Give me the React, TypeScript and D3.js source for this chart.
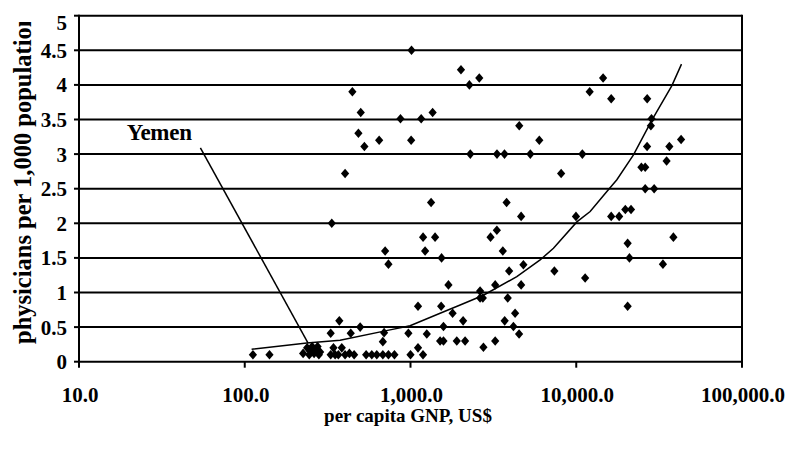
import React from "react";
import * as d3 from "d3";

// ---- data ----
const gnp: number[] = [
  112, 141, 225, 238, 245, 248, 255, 262, 270, 275, 280, 285, 330, 330, 335, 343, 351, 367, 372, 385,
  403, 403, 428, 436, 446, 457, 485, 497, 501, 527, 540, 584, 626, 647, 681, 681, 693, 703, 736, 736,
  800, 870, 971, 1000, 1009, 1014, 1110, 1110, 1160, 1190, 1191, 1225, 1254, 1331, 1360, 1407, 1509,
  1531, 1540, 1581, 1581, 1694, 1795, 1902, 2016, 2077, 2135, 2266, 2295, 2600, 2630, 2630, 2731, 2754,
  3040, 3243, 3243, 3319, 3325, 3606, 3690, 3700, 3800, 3860, 3936, 4178, 4276, 4520, 4530, 4650, 4650,
  4799, 5284, 5985, 7380, 8106, 9960, 10885, 11314, 12050, 14520, 16250, 16250, 18150, 19770, 20420,
  20420, 20941, 21400, 24720, 26066, 26066, 26750, 26790, 28200, 28450, 29512, 33340, 35080, 36450,
  38550, 42900,
];
const physicians: number[] = [
  0.1, 0.1, 0.12, 0.2, 0.1, 0.16, 0.22, 0.12, 0.18, 0.22, 0.1, 0.14, 0.1, 0.41, 2.0, 0.2, 0.1, 0.1, 0.59, 0.2,
  0.1, 2.72, 0.12, 0.41, 3.9, 0.1, 3.3, 0.5, 3.6, 3.11, 0.1, 0.1, 0.1, 3.2, 0.1, 0.29, 0.42, 1.6, 0.1, 1.41,
  0.1, 3.51, 0.41, 0.1, 3.2, 4.5, 0.2, 0.8, 3.51, 0.1, 1.8, 1.6, 0.4, 2.3, 3.6, 1.8, 0.3,
  0.8, 1.5, 0.3, 0.51, 1.11, 0.7, 0.3, 4.22, 0.59, 0.3, 4.0, 3.0, 4.1, 1.02, 0.92, 0.92, 0.21,
  1.8, 0.3, 1.11, 1.9, 3.0, 1.6, 3.0, 0.59, 2.3, 0.92, 1.31, 0.51, 0.7, 0.4, 3.41, 1.11, 2.1,
  1.4, 3.0, 3.2, 1.31, 2.72, 2.1, 3.0, 1.21, 3.9, 4.1, 3.8, 2.1, 2.1, 2.2, 1.71,
  0.8, 1.5, 2.2, 2.81, 2.81, 2.5, 3.11, 3.8, 3.41, 3.51, 2.5, 1.41, 2.9, 3.11,
  1.8, 3.21,
];
const trendGnp: number[] = [110, 237, 376, 753, 994, 1509, 1993, 2754, 4380, 6053, 7286, 10083, 12130, 15300, 17580, 22140, 28600, 37760, 43150];
const trendPhys: number[] = [0.18, 0.27, 0.31, 0.46, 0.52, 0.7, 0.82, 0.96, 1.23, 1.47, 1.64, 2.02, 2.17, 2.46, 2.63, 2.99, 3.49, 3.99, 4.3];

const xTicks: number[] = [10, 100, 1000, 10000, 100000];
const yTicks: number[] = [0, 0.5, 1, 1.5, 2, 2.5, 3, 3.5, 4, 4.5, 5];

const yemenLabel = "Yemen";
const yemenPoint: [number, number] = [241, 0.27];
const yemenLineStart: [number, number] = [54, 3.09];
const yemenTextAt: [number, number] = [19.4, 3.2];

const xTitle = "per capita GNP, US$";
const yTitle = "physicians per 1,000 population";

const FONT = "'Times New Roman', 'Liberation Serif', serif";

const diamond = {
  draw(ctx: any, size: number) {
    const w = Math.sqrt(size) * 0.62;
    const h = Math.sqrt(size) * 0.72;
    ctx.moveTo(0, -h);
    ctx.lineTo(w, 0);
    ctx.lineTo(0, h);
    ctx.lineTo(-w, 0);
    ctx.closePath();
  },
};

export default function App() {
  const W = 785;
  const H = 454;
  const left = 79,
    right = 742,
    top = 15.7,
    bottom = 361.7;

  const x = d3.scaleLog().domain([10, 100000]).range([left, right]);
  const y = d3.scaleLinear().domain([0, 5]).range([bottom, top]);

  const fmtX = (v: number) => d3.format(",.1f")(v);
  const symbolPath = d3.symbol().type(diamond as any).size(44)() as string;

  const trendLine = d3
    .line<number>()
    .x((_, i) => x(trendGnp[i]))
    .y((_, i) => y(trendPhys[i]))(trendGnp.map((_, i) => i)) as string;

  return (
    <svg
      width={W}
      height={H}
      style={{ position: "absolute", left: 0, top: 0, background: "#fff" }}
      fontFamily={FONT}
    >
      <defs>
        <clipPath id="ytitle-clip">
          <rect x={0} y={22} width={60} height={400} />
        </clipPath>
      </defs>
      <rect x={0} y={0} width={W} height={H} fill="#fff" />

      {/* gridlines */}
      {yTicks.map((t) => (
        <line key={"g" + t} x1={left} x2={right} y1={y(t)} y2={y(t)} stroke="#000" strokeWidth={2} />
      ))}
      {/* frame */}
      <line x1={right} x2={right} y1={top - 1} y2={bottom + 1} stroke="#000" strokeWidth={2} />
      <line x1={left} x2={left} y1={top - 1} y2={bottom + 1} stroke="#000" strokeWidth={2} />

      {/* y ticks & labels */}
      {yTicks.map((t) => (
        <g key={"yt" + t}>
          <line x1={left - 5} x2={left} y1={y(t)} y2={y(t)} stroke="#000" strokeWidth={2} />
          <text
            x={67}
            y={Math.max(y(t), 22.5)}
            dy="0.36em"
            textAnchor="end"
            fontSize={21}
            fontWeight="bold"
          >
            {String(t)}
          </text>
        </g>
      ))}

      {/* x ticks & labels */}
      {xTicks.map((t) => (
        <g key={"xt" + t}>
          <line x1={x(t)} x2={x(t)} y1={bottom} y2={bottom + 6} stroke="#000" strokeWidth={2} />
          <text x={x(t) + 1} y={402} textAnchor="middle" fontSize={21} fontWeight="bold">
            {fmtX(t)}
          </text>
        </g>
      ))}

      {/* trend line */}
      <path d={trendLine} fill="none" stroke="#000" strokeWidth={1.5} />

      {/* Yemen annotation */}
      <line
        x1={x(yemenLineStart[0])}
        y1={y(yemenLineStart[1])}
        x2={x(yemenPoint[0])}
        y2={y(yemenPoint[1])}
        stroke="#000"
        strokeWidth={1.5}
      />
      <text x={x(yemenTextAt[0])} y={y(yemenTextAt[1])} fontSize={23} fontWeight="bold" letterSpacing={-0.3}>
        {yemenLabel}
      </text>

      {/* points */}
      {gnp.map((g, i) => (
        <path key={"p" + i} d={symbolPath} transform={`translate(${x(g)},${y(physicians[i])})`} fill="#000" />
      ))}

      {/* axis titles */}
      <text x={408} y={422} textAnchor="middle" fontSize={19} fontWeight="bold">
        {xTitle}
      </text>
      <g clipPath="url(#ytitle-clip)">
        <text
          transform={`translate(31,344) rotate(-90)`}
          textAnchor="start"
          fontSize={24.5}
          fontWeight="bold"
        >
          {yTitle}
        </text>
      </g>
    </svg>
  );
}
